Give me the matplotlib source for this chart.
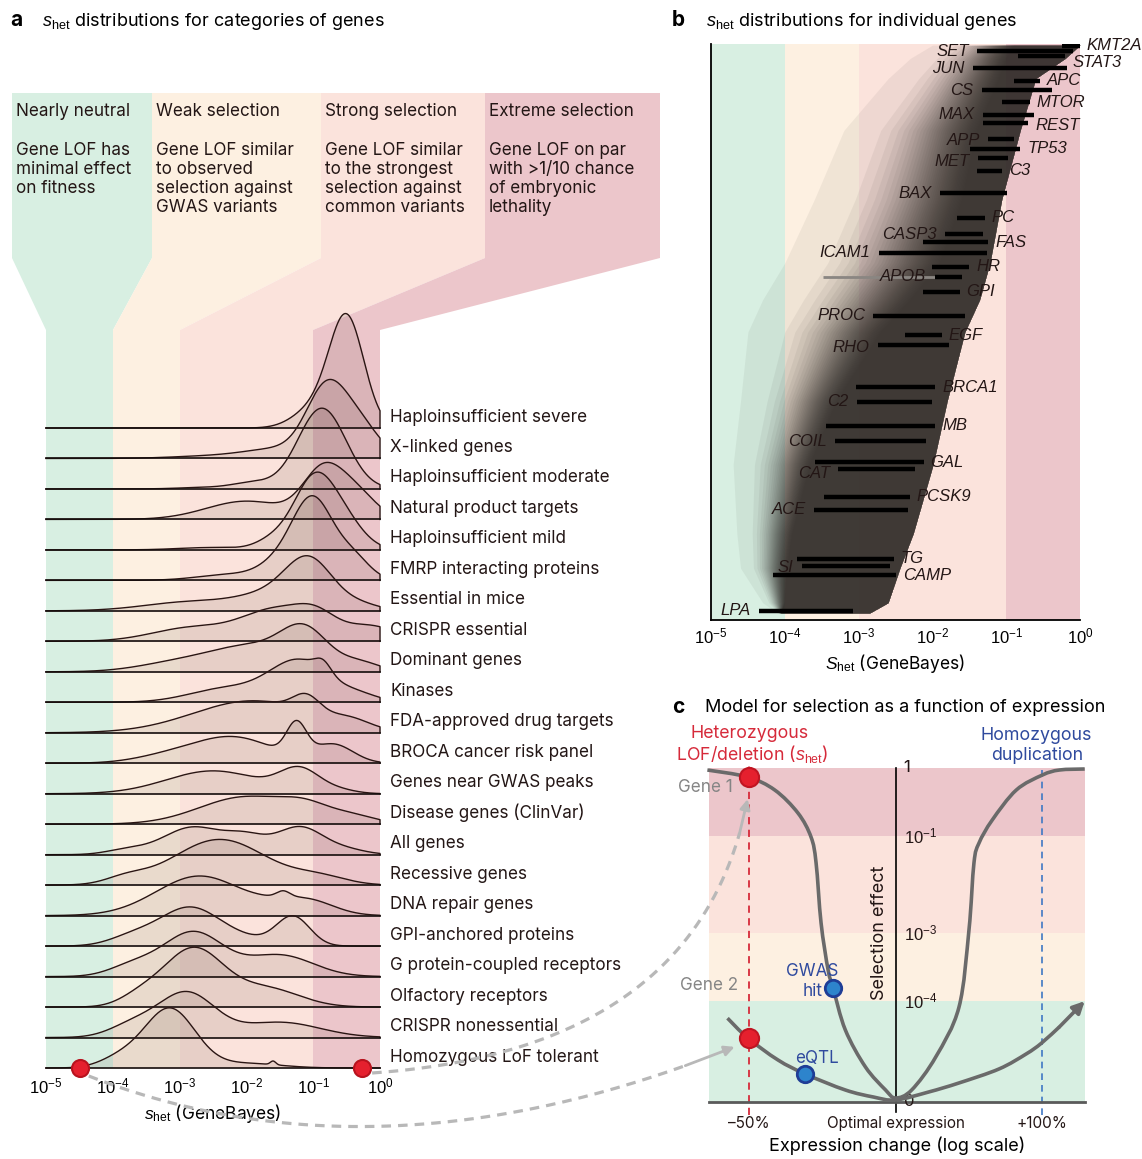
import numpy as np
import matplotlib
matplotlib.use("Agg")
import matplotlib.pyplot as plt
from matplotlib.patches import Polygon, PathPatch
from matplotlib.path import Path

FONT = "Inter"
plt.rcParams["font.family"] = [FONT, "Liberation Sans", "DejaVu Sans"]
plt.rcParams["mathtext.fontset"] = "custom"
plt.rcParams["mathtext.rm"] = "Liberation Sans"
plt.rcParams["mathtext.it"] = "Liberation Sans:italic"
plt.rcParams["mathtext.bf"] = "Liberation Sans:bold"

W, H = 1142, 1159

# selection regimes (s_het boundaries) and their colours
regime_edges = [1e-5, 1e-4, 1e-3, 1e-1, 1e0]
regime_colors = ["#d8efe2", "#fdf0e1", "#fbe3dc", "#ecc6cb"]
regime_titles = ["Nearly neutral", "Weak selection", "Strong selection", "Extreme selection"]
regime_notes = [
    "Gene LOF has\nminimal effect\non fitness",
    "Gene LOF similar\nto observed\nselection against\nGWAS variants",
    "Gene LOF similar\nto the strongest\nselection against\ncommon variants",
    "Gene LOF on par\nwith >1/10 chance\nof embryonic\nlethality",
]

# ---- panel a: density ridges, each as peaks in log10(s_het) (centre, width, height in rows)
categories = [
    "Haploinsufficient severe", "X-linked genes", "Haploinsufficient moderate",
    "Natural product targets", "Haploinsufficient mild", "FMRP interacting proteins",
    "Essential in mice", "CRISPR essential", "Dominant genes", "Kinases",
    "FDA-approved drug targets", "BROCA cancer risk panel", "Genes near GWAS peaks",
    "Disease genes (ClinVar)", "All genes", "Recessive genes", "DNA repair genes",
    "GPI-anchored proteins", "G protein-coupled receptors", "Olfactory receptors",
    "CRISPR nonessential", "Homozygous LoF tolerant",
]
ridge_centers = [
    [-0.5, -1.0],
    [-0.8, -0.3, -1.5, -2.5],
    [-0.87, -1.9, -2.6],
    [-0.85, -0.35, -2.0],
    [-1.0, -0.55, -1.6, -2.5],
    [-1.0, -1.5, -0.4, -2.2],
    [-1.05, -1.6, -2.8, -0.3],
    [-1.55, -0.95, -2.8, -0.15],
    [-1.12, -1.9, -3.0, -0.3],
    [-1.2, -0.85, -2.3, -0.3],
    [-1.1, -1.9, -0.45],
    [-2.2, -1.25, -0.7, -3.2],
    [-2.5, -1.2, -0.6],
    [-2.0, -1.1, -0.4],
    [-2.8, -2.0, -1.2, -0.5, -3.8],
    [-2.4, -0.9, -3.8],
    [-2.7, -1.7, -1.45, -1.1],
    [-2.85, -2.0, -1.3, -3.7],
    [-2.8, -1.5, -3.7],
    [-2.8, -1.7, -3.6],
    [-2.9, -1.5, -3.7],
    [-3.15, -2.0, -1.6, -3.9],
]
ridge_widths = [
    [0.26, 0.3],
    [0.3, 0.3, 0.5, 0.6],
    [0.36, 0.3, 0.4],
    [0.3, 0.3, 0.6],
    [0.3, 0.3, 0.25, 0.5],
    [0.3, 0.3, 0.25, 0.5],
    [0.35, 0.5, 0.7, 0.3],
    [0.5, 0.3, 0.6, 0.4],
    [0.35, 0.6, 0.6, 0.3],
    [0.45, 0.12, 0.55, 0.3],
    [0.2, 0.9, 0.3],
    [0.6, 0.15, 0.3, 0.5],
    [0.7, 0.3, 0.25],
    [0.7, 0.35, 0.35],
    [0.45, 0.3, 0.35, 0.3, 0.3],
    [0.7, 0.4, 0.3],
    [0.65, 0.3, 0.1, 0.4],
    [0.45, 0.4, 0.25, 0.35],
    [0.45, 0.5, 0.35],
    [0.45, 0.5, 0.3],
    [0.42, 0.6, 0.35],
    [0.38, 0.5, 0.04, 0.3],
]
ridge_heights = [
    [3.6, 0.6],
    [2.2, 1.0, 0.3, 0.08],
    [2.65, 0.2, 0.05],
    [1.55, 0.8, 0.6],
    [2.2, 0.9, 0.3, 0.08],
    [2.6, 0.5, 0.7, 0.2],
    [1.5, 0.5, 0.3, 0.2],
    [1.0, 0.6, 0.45, 0.5],
    [1.2, 0.8, 0.3, 0.3],
    [1.35, 0.35, 0.45, 0.2],
    [0.55, 1.05, 0.25],
    [0.85, 1.05, 0.6, 0.2],
    [0.75, 0.75, 0.1],
    [0.9, 0.4, 0.25],
    [0.9, 0.5, 0.9, 0.15, 0.15],
    [1.5, 0.25, 0.2],
    [1.3, 0.1, 0.2, 0.5],
    [1.25, 0.2, 0.95, 0.3],
    [1.45, 0.7, 0.35],
    [1.9, 0.6, 0.3],
    [1.45, 0.5, 0.4],
    [1.95, 0.15, 0.12, 0.3],
]
gene1_shet = 0.54
gene2_shet = 3.2e-5

# ---- panel b: individual genes, rank (0 bottom, 1 top) and log10 s_het interval
gene_names = ["KMT2A", "SET", "STAT3", "JUN", "APC", "CS", "MTOR", "MAX", "REST", "APP",
              "TP53", "MET", "C3", "BAX", "PC", "CASP3", "FAS", "ICAM1", "HR", "APOB",
              "GPI", "PROC", "EGF", "RHO", "BRCA1", "C2", "MB", "COIL", "GAL", "CAT",
              "PCSK9", "ACE", "TG", "SI", "CAMP", "LPA"]
gene_rank = [0.997, 0.987, 0.979, 0.958, 0.936, 0.920, 0.899, 0.877, 0.862, 0.835,
             0.818, 0.802, 0.780, 0.741, 0.698, 0.670, 0.656, 0.638, 0.613, 0.596,
             0.570, 0.528, 0.494, 0.477, 0.404, 0.379, 0.337, 0.310, 0.274, 0.262,
             0.214, 0.191, 0.106, 0.094, 0.078, 0.016]
gene_log_lo = [-0.25, -1.39, -0.84, -1.45, -0.90, -1.33, -1.06, -1.31, -1.31, -1.24,
               -1.49, -1.38, -1.40, -1.90, -1.67, -1.83, -2.13, -2.73, -2.00, -1.97,
               -2.13, -2.80, -2.37, -2.74, -3.03, -3.02, -3.44, -3.32, -3.59, -3.28,
               -3.47, -3.60, -3.84, -3.77, -4.16, -4.35]
gene_log_hi = [0.0, -0.09, -0.20, -0.18, -0.54, -0.38, -0.68, -0.63, -0.70, -0.90,
               -0.81, -0.97, -1.06, -0.99, -1.29, -1.32, -1.24, -1.26, -1.50, -1.60,
               -1.63, -1.56, -1.87, -1.77, -1.96, -2.01, -1.96, -2.09, -2.12, -2.24,
               -2.31, -2.33, -2.52, -2.57, -2.49, -3.07]
apob_wide = (-3.48, -1.97)

# outline of the cloud of all gene intervals (log10 s_het)
cloud_rank = [0.012, 0.03, 0.09, 0.15, 0.27, 0.38, 0.50, 0.556, 0.62, 0.73, 0.85, 0.94, 0.975, 0.998]
cloud_right = [-2.85, -2.6, -2.44, -2.26, -1.99, -1.80, -1.56, -1.36, -1.22, -1.06, -0.81, -0.6, -0.2, 0.0]
cloud_core = [-4.05, -4.0, -3.97, -3.9, -3.66, -3.3, -2.7, -2.3, -1.9, -1.6, -1.4, -1.1, -1.0, -0.9]
cloud_fade = [-4.1, -4.3, -4.6, -4.65, -4.7, -4.6, -4.5, -4.3, -4.0, -3.6, -3.2, -2.6, -2.3, -2.0]

# ---- panel c: schematic selection curves (x: log2 expression change, y: display level)
c_levels = [0.0, 0.302, 0.506, 0.796, 1.0]
c_level_labels = ["0", "$10^{-4}$", "$10^{-3}$", "$10^{-1}$", "1"]
gene1_x = [-1.281, -1.007, -0.822, -0.664, -0.575, -0.541, -0.507, -0.459, -0.425, -0.342,
           -0.205, -0.068, 0.0, 0.11, 0.274, 0.432, 0.5, 0.534, 0.568, 0.658, 0.822, 1.0,
           1.116, 1.288]
gene1_y = [0.994, 0.973, 0.934, 0.865, 0.793, 0.716, 0.536, 0.395, 0.341, 0.216, 0.105,
           0.036, 0.012, 0.036, 0.135, 0.284, 0.515, 0.716, 0.775, 0.844, 0.934, 0.979,
           0.994, 0.997]
gene2_x = [-1.281, -1.144, -1.007, -0.801, -0.616, -0.342, -0.151, 0.0, 0.226, 0.432,
           0.705, 0.89, 0.993, 1.116, 1.288]
gene2_y = [0.311, 0.251, 0.192, 0.126, 0.084, 0.036, 0.015, 0.006, 0.03, 0.057, 0.099,
           0.144, 0.176, 0.225, 0.302]
het_change, dup_change = -1.0, 1.0
gene1_het, gene2_het = 0.973, 0.192
gwas_xy = (-0.425, 0.341)
eqtl_xy = (-0.616, 0.084)

RED = "#d62a3a"
BLUE = "#2f4a9e"
INK = "#231615"


def px_axes(left, top, right, bottom, **kw):
    return fig.add_axes([left / W, 1 - bottom / H, (right - left) / W, (bottom - top) / H], **kw)


def pixel_frame(ax):
    ax.set_xlim(0, W)
    ax.set_ylim(H, 0)
    ax.axis("off")


def smooth_path(x, y):
    """Cubic Bezier path passing through the given points (Catmull-Rom tangents)."""
    p = np.column_stack([x, y])
    verts, codes = [p[0]], [Path.MOVETO]
    for i in range(len(p) - 1):
        p0 = p[i - 1] if i > 0 else p[i]
        p3 = p[i + 2] if i + 2 < len(p) else p[i + 1]
        verts += [p[i] + (p[i + 1] - p0) / 6, p[i + 1] - (p3 - p[i]) / 6, p[i + 1]]
        codes += [Path.CURVE4] * 3
    return Path(verts, codes)


fig = plt.figure(figsize=(W / 100, H / 100), dpi=100)
canvas = fig.add_axes([0, 0, 1, 1], zorder=0)
pixel_frame(canvas)

# ---------------- panel a header: regime boxes funnelling onto the axis
box_x = [12, 152, 321, 485, 660]
axis_x = [46, 113, 180, 313, 380]
for k in range(4):
    pts = [(box_x[k], 93), (box_x[k + 1], 93), (box_x[k + 1], 258),
           (axis_x[k + 1], 330), (axis_x[k], 330), (box_x[k], 258)]
    canvas.add_patch(Polygon(pts, closed=True, fc=regime_colors[k], ec="none"))
    canvas.text(box_x[k] + 4, 111, regime_titles[k], fontsize=12.3, va="center", color=INK)
    canvas.text(box_x[k] + 4, 142, regime_notes[k], fontsize=12.3, va="top",
                linespacing=1.16, color=INK)

canvas.text(10, 20, "a", fontsize=15, fontweight="bold", va="center")
canvas.text(42, 22, "$s_{\\mathrm{het}}$ distributions for categories of genes",
            fontsize=13, va="center")
canvas.text(672, 20, "b", fontsize=15, fontweight="bold", va="center")
canvas.text(706, 22, "$s_{\\mathrm{het}}$ distributions for individual genes",
            fontsize=13, va="center")
canvas.text(672, 707, "c", fontsize=15, fontweight="bold", va="center")
canvas.text(705, 707, "Model for selection as a function of expression",
            fontsize=13, va="center")

# ---------------- panel a ridges
row_px = (1068 - 428) / 21
ax_a = px_axes(46, 330, 380, 1068, zorder=1)
ax_a.set_facecolor("none")
ax_a.set_xscale("log")
ax_a.set_xlim(1e-5, 1)
ax_a.set_ylim(0, (1068 - 330) / row_px)
for lo, hi, col in zip(regime_edges[:-1], regime_edges[1:], regime_colors):
    ax_a.axvspan(lo, hi, color=col, lw=0, zorder=0)

lgrid = np.linspace(-5, 0, 600)
xs = 10 ** lgrid
n_rows = len(categories)
for i, name in enumerate(categories):
    base = n_rows - 1 - i
    dens = np.zeros_like(lgrid)
    for mu, sd, amp in zip(ridge_centers[i], ridge_widths[i], ridge_heights[i]):
        dens += amp * np.exp(-(lgrid - mu) ** 2 / (2 * sd ** 2))
    z = 2 + 0.1 * i
    ax_a.fill_between(xs, base, base + dens, color="#3c1f17", alpha=0.1, lw=0,
                      zorder=z, clip_on=False)
    ax_a.plot(np.r_[xs, 1.0], np.r_[base + dens, base], color="#2a1513", lw=1.0,
              zorder=z + 0.01, clip_on=False)
    ax_a.plot([1e-5, 1], [base, base], color="#150d0c", lw=1.2, zorder=z + 0.02,
              clip_on=False)
    ax_a.text(1.03, base + 0.36, name, transform=ax_a.get_yaxis_transform(),
              fontsize=12.3, va="center", color=INK)

ax_a.scatter([gene1_shet, gene2_shet], [0, 0], s=150, color="#e5202e",
             edgecolors="#b8131e", linewidths=1.5, zorder=20, clip_on=False)
for sp in ax_a.spines.values():
    sp.set_visible(False)
ax_a.set_yticks([])
ax_a.set_xticks([1e-5, 1e-4, 1e-3, 1e-2, 1e-1, 1e0])
ax_a.set_xticklabels(["$10^{-5}$", "$10^{-4}$", "$10^{-3}$", "$10^{-2}$", "$10^{-1}$", "$10^{0}$"])
ax_a.xaxis.set_minor_locator(matplotlib.ticker.NullLocator())
ax_a.tick_params(axis="x", length=0, pad=6, labelsize=12)
ax_a.set_xlabel("$s_{\\mathrm{het}}$ (GeneBayes)", fontsize=12.5, labelpad=4)

# ---------------- panel b: gene intervals
ax_b = px_axes(711, 44, 1080, 620, zorder=1)
ax_b.set_xscale("log")
ax_b.set_xlim(1e-5, 1)
ax_b.set_ylim(0, 1)
for lo, hi, col in zip(regime_edges[:-1], regime_edges[1:], regime_colors):
    ax_b.axvspan(lo, hi, color=col, lw=0, zorder=0)

# the cloud fades out to the left: stack translucent layers whose left edges
# move from the faint outer limit to the dense core
rank = np.array(cloud_rank)
right = np.array(cloud_right)
core = np.array(cloud_core)
fade = np.array(cloud_fade)
n_layers = 40
for k in range(n_layers):
    frac = (k / (n_layers - 1)) ** 0.35
    left = fade + (core - fade) * frac
    ax_b.fill_betweenx(rank, 10 ** left, 10 ** right, color="#37322f", alpha=0.062,
                       lw=0, zorder=1)

ax_b.hlines(gene_rank[gene_names.index("APOB")], 10 ** apob_wide[0], 10 ** apob_wide[1],
            color="#8a8682", lw=2, zorder=2)
label_nudge = {"STAT3": 6, "MET": 3, "CAT": 4, "SI": 2, "RHO": 2, "REST": 2, "APP": 1}
for j, name in enumerate(gene_names):
    lo, hi, r = 10 ** gene_log_lo[j], 10 ** gene_log_hi[j], gene_rank[j]
    ax_b.hlines(r, lo, hi, color="black", lw=3.2, zorder=3)
    dy = -label_nudge.get(name, 0) * 0.72
    if j % 2 == 0:
        ax_b.annotate(name, (hi, r), xytext=(5, dy), textcoords="offset points",
                      ha="left", va="center", fontsize=12, style="italic",
                      family="Liberation Sans", color=INK, zorder=4, annotation_clip=False)
    else:
        ax_b.annotate(name, (lo, r), xytext=(-6, dy), textcoords="offset points",
                      ha="right", va="center", fontsize=12, style="italic",
                      family="Liberation Sans", color=INK, zorder=4, annotation_clip=False)

for side in ("top", "right"):
    ax_b.spines[side].set_visible(False)
for side in ("left", "bottom"):
    ax_b.spines[side].set_linewidth(1.3)
ax_b.set_yticks([])
ax_b.set_xticks([1e-5, 1e-4, 1e-3, 1e-2, 1e-1, 1e0])
ax_b.set_xticklabels(["$10^{-5}$", "$10^{-4}$", "$10^{-3}$", "$10^{-2}$", "$10^{-1}$", "$10^{0}$"])
ax_b.xaxis.set_minor_locator(matplotlib.ticker.NullLocator())
ax_b.tick_params(axis="x", length=0, pad=5, labelsize=12)
ax_b.set_xlabel("$S_{\\mathrm{het}}$ (GeneBayes)", fontsize=12.5, labelpad=4)

# ---------------- panel c: selection vs expression
ax_c = px_axes(709, 768, 1085, 1102, zorder=1)
ax_c.set_xlim(-1.27, 1.29)
ax_c.set_ylim(0, 1)
for k in range(4):
    ax_c.axhspan(c_levels[k], c_levels[k + 1], color=regime_colors[k], lw=0, zorder=0)
ax_c.plot([het_change, het_change], [-0.04, 1.01], color=RED, lw=1.3,
          ls=(0, (4, 3)), zorder=2, clip_on=False)
ax_c.plot([dup_change, dup_change], [-0.04, 1.0], color="#3f78c4", lw=1.2,
          ls=(0, (4, 3)), zorder=2, clip_on=False)
ax_c.plot([0, 0], [-0.03, 1.0], color="black", lw=1.2, zorder=2, clip_on=False)
for lev, lab in zip(c_levels, c_level_labels):
    ax_c.text(0.055, lev, lab, fontsize=12, va="center", ha="left", color=INK, zorder=3)

curve_col = "#6a6a6a"
ax_c.add_patch(PathPatch(smooth_path(gene1_x, gene1_y), fc="none", ec=curve_col,
                         lw=2.6, zorder=4, clip_on=False))
ax_c.add_patch(PathPatch(smooth_path(gene2_x[1:-1], gene2_y[1:-1]), fc="none",
                         ec=curve_col, lw=2.6, zorder=4, clip_on=False))
for a, b in ((1, 0), (-2, -1)):
    ax_c.annotate("", xy=(gene2_x[b], gene2_y[b]), xytext=(gene2_x[a], gene2_y[a]),
                  arrowprops=dict(arrowstyle="-|>,head_length=0.7,head_width=0.35",
                                  color=curve_col, lw=2.6, shrinkA=0, shrinkB=0),
                  zorder=4)
ax_c.scatter([het_change, het_change], [gene1_het, gene2_het], s=190, color="#e5202e",
             edgecolors="#c01522", linewidths=1.5, zorder=6, clip_on=False)
ax_c.scatter([gwas_xy[0], eqtl_xy[0]], [gwas_xy[1], eqtl_xy[1]], s=140, color="#2d84cc",
             edgecolors="#1f3d96", linewidths=2, zorder=6)

for side in ("top", "right", "left"):
    ax_c.spines[side].set_visible(False)
ax_c.spines["bottom"].set_color("#5a5a5a")
ax_c.spines["bottom"].set_linewidth(2)
ax_c.set_yticks([])
ax_c.set_xticks([het_change, 0, dup_change])
ax_c.set_xticklabels(["\u201350%", "Optimal expression", "+100%"])
ax_c.tick_params(axis="x", length=0, pad=10, labelsize=11, colors=INK)
ax_c.set_xlabel("Expression change (log scale)", fontsize=13, labelpad=4)

# ---------------- overlay: annotations and links between panels
overlay = fig.add_axes([0, 0, 1, 1], zorder=5)
overlay.set_facecolor("none")
pixel_frame(overlay)


def to_px(ax, x, y):
    return overlay.transData.inverted().transform(ax.transData.transform((x, y)))


overlay.text(750, 734, "Heterozygous", color=RED, fontsize=12.8, ha="center", va="center")
overlay.text(752, 754, "LOF/deletion ($s_{\\mathrm{het}}$)", color=RED, fontsize=12.8,
             ha="center", va="center")
overlay.text(1036, 735, "Homozygous", color=BLUE, fontsize=12.8, ha="center", va="center")
overlay.text(1037, 755, "duplication", color=BLUE, fontsize=12.8, ha="center", va="center")
overlay.text(678, 787, "Gene 1", color="#858585", fontsize=12.3, va="center")
overlay.text(680, 986, "Gene 2", color="#858585", fontsize=12.3, va="center")
overlay.text(812, 971, "GWAS", color=BLUE, fontsize=12.3, ha="center", va="center")
overlay.text(823, 991, "hit", color=BLUE, fontsize=12.3, ha="right", va="center")
overlay.text(817, 1058, "eQTL", color=BLUE, fontsize=12.3, ha="center", va="center")
overlay.text(880, 933, "Selection effect", fontsize=13, rotation=90, ha="center",
             va="center", color=INK)


def bezier(p0, c, p1, t):
    t = np.asarray(t)[:, None]
    return (1 - t) ** 2 * p0 + 2 * (1 - t) * t * np.asarray(c) + t ** 2 * p1


links = [
    (to_px(ax_a, gene1_shet, 0) + [10, 5], (700, 1050), to_px(ax_c, het_change, gene1_het) + [-1, 22]),
    (to_px(ax_a, gene2_shet, 0) + [9, 8], (380, 1190), to_px(ax_c, het_change, gene2_het) + [-14, 9]),
]
dash_col = "#b8b8b8"
for p0, c, p1 in links:
    pts = bezier(p0, c, p1, np.linspace(0, 0.93, 150))
    overlay.plot(pts[:, 0], pts[:, 1], color=dash_col, lw=2.3, ls=(0, (3, 2.2)))
    tail = bezier(p0, c, p1, [0.93])[0]
    overlay.annotate("", xy=p1, xytext=tail,
                     arrowprops=dict(arrowstyle="-|>,head_length=0.6,head_width=0.3",
                                     color=dash_col, lw=2.0, shrinkA=0, shrinkB=0))

fig.savefig("out.png", dpi=100)
